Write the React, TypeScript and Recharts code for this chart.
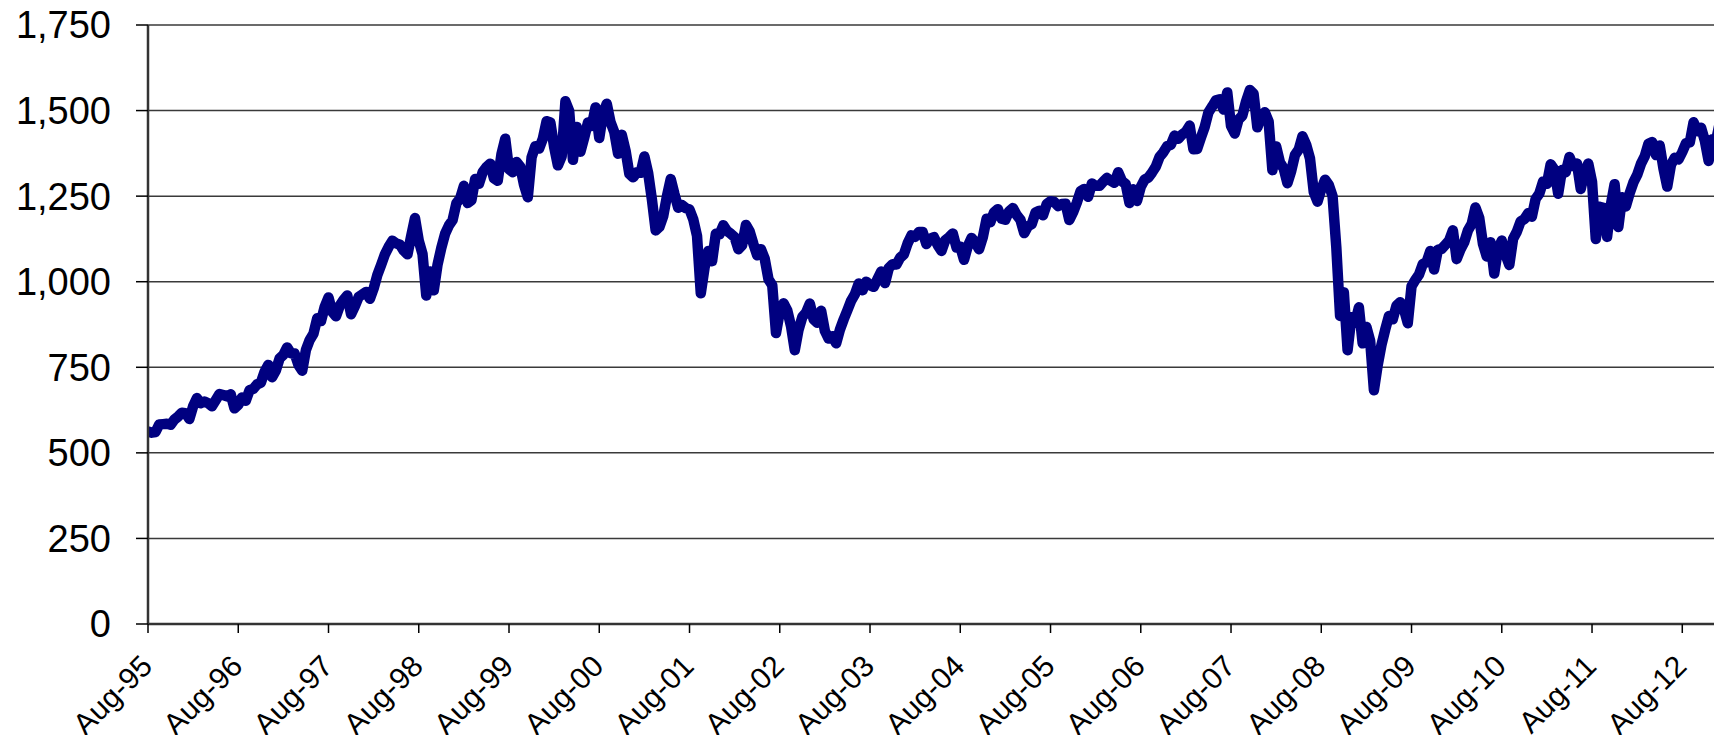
import { LineChart, Line, XAxis, YAxis, CartesianGrid } from "recharts";

// S&P 500 level, two readings per month (1st and mid-month)
const P1995 = [562, 559, 561, 583, 584, 585, 582, 597, 606, 617];
const P1996 = [616, 599, 636, 660, 645, 650, 645, 636, 654, 672, 669, 665, 671, 630, 640, 662, 652, 683, 687, 700, 705, 737, 757, 721];
const P1997 = [741, 776, 786, 808, 791, 790, 757, 740, 801, 830, 848, 893, 885, 927, 954, 912, 899, 930, 947, 960, 905, 928, 955, 963];
const P1998 = [970, 950, 980, 1020, 1049, 1080, 1102, 1120, 1112, 1108, 1091, 1080, 1134, 1186, 1120, 1081, 960, 1030, 975, 1050, 1099, 1140, 1164, 1180];
const P1999 = [1229, 1243, 1280, 1230, 1238, 1300, 1286, 1320, 1335, 1345, 1302, 1295, 1373, 1418, 1329, 1320, 1350, 1336, 1283, 1247, 1363, 1396, 1389, 1418];
const P2000 = [1469, 1465, 1394, 1340, 1366, 1527, 1499, 1356, 1452, 1380, 1421, 1465, 1455, 1509, 1420, 1491, 1520, 1466, 1437, 1374, 1429, 1383, 1315, 1305];
const P2001 = [1320, 1318, 1366, 1318, 1240, 1150, 1160, 1191, 1250, 1300, 1256, 1216, 1224, 1215, 1211, 1182, 1134, 966, 1041, 1090, 1060, 1140, 1139, 1165];
const P2002 = [1148, 1140, 1130, 1095, 1107, 1166, 1147, 1110, 1077, 1095, 1067, 1007, 990, 850, 912, 937, 916, 870, 800, 860, 897, 910, 936, 890];
const P2003 = [880, 915, 856, 834, 841, 820, 860, 890, 917, 945, 964, 995, 975, 1000, 990, 985, 1008, 1030, 996, 1040, 1051, 1050, 1070, 1080];
const P2004 = [1112, 1135, 1131, 1145, 1145, 1110, 1126, 1130, 1107, 1090, 1121, 1130, 1141, 1100, 1102, 1064, 1104, 1128, 1115, 1095, 1130, 1184, 1174, 1203];
const P2005 = [1212, 1184, 1181, 1206, 1215, 1195, 1181, 1142, 1162, 1168, 1202, 1207, 1194, 1227, 1235, 1233, 1221, 1227, 1228, 1180, 1203, 1231, 1265, 1271];
const P2006 = [1248, 1287, 1280, 1280, 1292, 1303, 1295, 1289, 1320, 1294, 1285, 1230, 1270, 1236, 1277, 1298, 1304, 1319, 1336, 1365, 1378, 1396, 1400, 1427];
const P2007 = [1418, 1430, 1438, 1456, 1387, 1388, 1421, 1452, 1495, 1512, 1530, 1533, 1503, 1553, 1455, 1433, 1474, 1485, 1527, 1560, 1549, 1451, 1481, 1495];
const P2008 = [1468, 1326, 1395, 1349, 1331, 1288, 1323, 1370, 1386, 1425, 1400, 1360, 1262, 1234, 1270, 1298, 1283, 1250, 1100, 900, 969, 800, 896, 880];
const P2009 = [925, 820, 868, 827, 683, 756, 815, 860, 900, 890, 930, 940, 919, 879, 987, 1005, 1021, 1052, 1057, 1090, 1036, 1093, 1096, 1108];
const P2010 = [1120, 1150, 1066, 1094, 1115, 1150, 1169, 1217, 1187, 1110, 1074, 1115, 1024, 1096, 1120, 1079, 1049, 1125, 1146, 1176, 1183, 1200, 1190, 1242];
const P2011 = [1258, 1293, 1286, 1343, 1327, 1257, 1326, 1320, 1364, 1338, 1345, 1271, 1320, 1345, 1292, 1125, 1219, 1216, 1131, 1224, 1285, 1160, 1247, 1220];
const P2012 = [1258, 1290, 1312, 1344, 1366, 1403, 1408, 1370, 1398, 1330, 1278, 1342, 1362, 1357, 1379, 1405, 1407, 1466, 1440, 1450, 1412, 1353, 1416, 1413];
const P2013 = [1466];

// start = half-month slot (0 = Jan 1, 14 = Aug 1)
const SERIES = [
  { year: 1995, start: 14, values: P1995 },
  { year: 1996, start: 0, values: P1996 },
  { year: 1997, start: 0, values: P1997 },
  { year: 1998, start: 0, values: P1998 },
  { year: 1999, start: 0, values: P1999 },
  { year: 2000, start: 0, values: P2000 },
  { year: 2001, start: 0, values: P2001 },
  { year: 2002, start: 0, values: P2002 },
  { year: 2003, start: 0, values: P2003 },
  { year: 2004, start: 0, values: P2004 },
  { year: 2005, start: 0, values: P2005 },
  { year: 2006, start: 0, values: P2006 },
  { year: 2007, start: 0, values: P2007 },
  { year: 2008, start: 0, values: P2008 },
  { year: 2009, start: 0, values: P2009 },
  { year: 2010, start: 0, values: P2010 },
  { year: 2011, start: 0, values: P2011 },
  { year: 2012, start: 0, values: P2012 },
  { year: 2013, start: 0, values: P2013 },
];

const TICK_YEARS = [1995, 1996, 1997, 1998, 1999, 2000, 2001, 2002, 2003, 2004, 2005, 2006, 2007, 2008, 2009, 2010, 2011, 2012];
const TICK_LABELS = ["Aug-95", "Aug-96", "Aug-97", "Aug-98", "Aug-99", "Aug-00", "Aug-01", "Aug-02", "Aug-03", "Aug-04", "Aug-05", "Aug-06", "Aug-07", "Aug-08", "Aug-09", "Aug-10", "Aug-11", "Aug-12"];
const Y_TICKS = [0, 250, 500, 750, 1000, 1250, 1500, 1750];

const X_MIN = 1995 + 7 / 12;
const X_MAX = 2012.968;
const X_TICKS = TICK_YEARS.map((y) => y + 7 / 12);

const FONT = "'Liberation Sans', Arial, sans-serif";
const PLOT_BOTTOM = 624;

const data = SERIES.flatMap(({ year, start, values }) =>
  values.map((v, i) => ({ t: year + (start + i) / 24, v }))
);

// rotated label, its end sits just below and right of the tick
function XTick({ x, index }: { x: number; index: number }) {
  const px = x + 6;
  const py = PLOT_BOTTOM + 44;
  return (
    <text
      x={px}
      y={py}
      transform={`rotate(-45, ${px}, ${py})`}
      textAnchor="end"
      fontSize={30}
      fontFamily={FONT}
      fill="#000"
    >
      {TICK_LABELS[index]}
    </text>
  );
}

export default function App() {
  return (
    <div style={{ position: "relative", width: 1722, height: 743, margin: -8, background: "#fff" }}>
      <LineChart
        width={1722}
        height={743}
        data={data}
        margin={{ top: 25, right: 5, bottom: 0, left: 0 }}
      >
        <CartesianGrid vertical={false} stroke="#3a3a3a" strokeWidth={1.5} />
        <XAxis
          dataKey="t"
          type="number"
          domain={[X_MIN, X_MAX]}
          ticks={X_TICKS}
          interval={0}
          allowDataOverflow
          height={119}
          tickSize={9}
          tick={(props: any) => <XTick x={props.x} index={props.index} />}
          axisLine={{ stroke: "#333", strokeWidth: 2.5 }}
          tickLine={{ stroke: "#000", strokeWidth: 1.5 }}
        />
        <XAxis
          xAxisId="top"
          orientation="top"
          dataKey="t"
          type="number"
          domain={[X_MIN, X_MAX]}
          height={0}
          tick={false}
          tickLine={false}
          axisLine={{ stroke: "#808080", strokeWidth: 3 }}
        />
        <YAxis
          domain={[0, 1750]}
          ticks={Y_TICKS}
          interval={0}
          width={148}
          tickSize={12}
          tickMargin={25}
          tickFormatter={(v: number) => v.toLocaleString("en-US")}
          tick={{ fontSize: 38, fill: "#000", fontFamily: FONT }}
          axisLine={{ stroke: "#333", strokeWidth: 2.5 }}
          tickLine={{ stroke: "#000", strokeWidth: 1.5 }}
        />
        <YAxis
          yAxisId="right"
          orientation="right"
          domain={[0, 1750]}
          width={0}
          tick={false}
          tickLine={false}
          axisLine={{ stroke: "#808080", strokeWidth: 3 }}
        />
        <Line
          type="linear"
          dataKey="v"
          stroke="#000080"
          strokeWidth={10.5}
          strokeLinejoin="round"
          strokeLinecap="round"
          dot={false}
          activeDot={false}
          isAnimationActive={false}
        />
      </LineChart>
      <svg
        width={1722}
        height={743}
        style={{ position: "absolute", left: 0, top: 0, pointerEvents: "none" }}
      >
        <text x={857} y={3} textAnchor="middle" fontSize={67} fontWeight="bold" fontFamily={FONT} fill="#000">
          S&amp;P 500
        </text>
      </svg>
    </div>
  );
}
